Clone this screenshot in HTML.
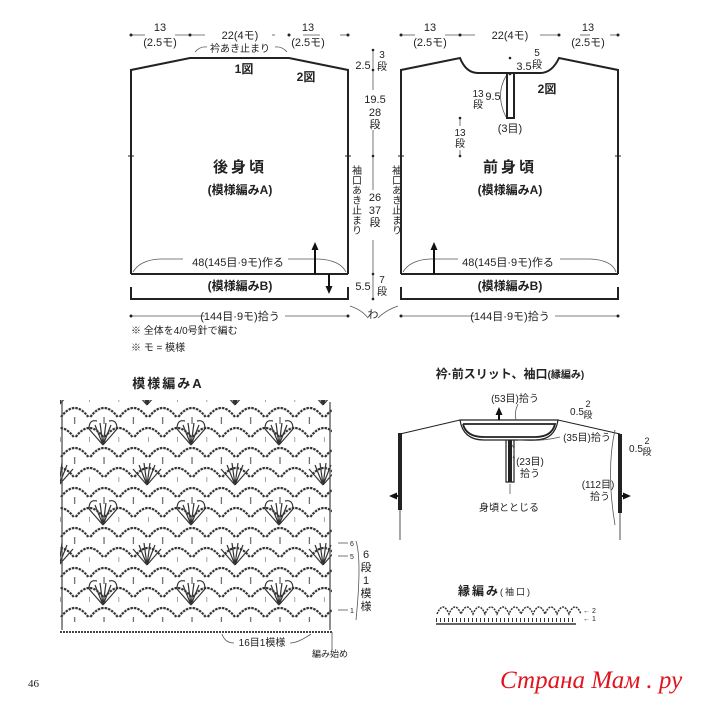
<!DOCTYPE html>
<html><head><meta charset="utf-8"><style>
html,body{margin:0;padding:0;background:#fff;}
body{width:702px;height:700px;overflow:hidden;}
svg text{font-family:"Liberation Sans","Noto Sans CJK JP",sans-serif;fill:#222;}
.b{font-weight:bold;}
</style></head><body>
<svg width="702" height="700" viewBox="0 0 702 700" xmlns="http://www.w3.org/2000/svg">
<defs>
<pattern id="arcs" x="60" y="402" width="29.33" height="40" patternUnits="userSpaceOnUse">
 <path d="M1 15 Q14.7 -3 28.3 15" fill="none" stroke="#333" stroke-width="2.2" stroke-dasharray="2.5 1"/>
 <path d="M-13.7 35 Q0 17 13.7 35 M15.7 35 Q29.3 17 43 35" fill="none" stroke="#333" stroke-width="2.2" stroke-dasharray="2.5 1"/>
 <line x1="14.7" y1="15" x2="14.7" y2="22" stroke="#444" stroke-width="1"/>
 <line x1="0" y1="35" x2="0" y2="40" stroke="#444" stroke-width="1"/>
</pattern>
<pattern id="fans" x="59" y="415" width="88" height="80" patternUnits="userSpaceOnUse">
 <g fill="none" stroke="#333" stroke-width="1.2">
  <path d="M44 30 L30 14 M44 30 L36 10 M44 30 L41 8 M44 30 L47 8 M44 30 L52 10 M44 30 L58 14"/>
  <path d="M30 14 Q30 4 38 6 M58 14 Q58 4 50 6"/>
  <path d="M0 70 L-14 54 M0 70 L-8 50 M0 70 L-3 48 M0 70 L3 48 M0 70 L8 50 M0 70 L14 54"/>
  <path d="M88 70 L74 54 M88 70 L80 50 M88 70 L85 48 M88 70 L91 48 M88 70 L96 50 M88 70 L102 54"/>
 </g>
</pattern>
<marker id="ah" markerUnits="userSpaceOnUse" markerWidth="8" markerHeight="8" refX="4" refY="4" orient="auto"><path d="M0 0.5 L8 4 L0 7.5 z" fill="#111"/></marker>
</defs>

<!-- ===== Back body ===== -->
<g fill="none" stroke="#222" stroke-width="2">
 <path d="M131 274 L131 70 L190 58 L289 58 L348 70 L348 274"/>
 <line x1="131" y1="274" x2="348" y2="274"/>
 <path d="M131 287 L131 299 L348 299 L348 287"/>
</g>
<g fill="none" stroke="#555" stroke-width="0.8">
 <path d="M133 272 Q140 260 160 259 L183 259 M288 259 L318 259 Q340 260 346 272"/>
 <path d="M195 52 Q200 46 207 47 M275 47 Q282 46 287 52"/>
 <line x1="131" y1="35" x2="145" y2="35"/><line x1="175" y1="35" x2="205" y2="35"/><line x1="272" y1="35" x2="275" y2="35"/><line x1="303" y1="35" x2="320" y2="35"/><line x1="340" y1="35" x2="348" y2="35"/>
 <line x1="131" y1="316" x2="205" y2="316"/><line x1="285" y1="316" x2="348" y2="316"/>
</g>
<g fill="#222"><circle cx="131" cy="35" r="1.5"/><circle cx="190" cy="35" r="1.5"/><circle cx="289" cy="35" r="1.5"/><circle cx="348" cy="35" r="1.5"/><circle cx="131" cy="316" r="1.5"/><circle cx="348" cy="316" r="1.5"/></g>
<line x1="128" y1="156" x2="134" y2="156" stroke="#222"/><line x1="345" y1="156" x2="351" y2="156" stroke="#222"/>
<line x1="315" y1="274" x2="315" y2="246" stroke="#111" stroke-width="2" marker-end="url(#ah)"/>
<line x1="329" y1="274" x2="329" y2="290" stroke="#111" stroke-width="2" marker-end="url(#ah)"/>
<g font-size="11" text-anchor="middle">
 <text x="160" y="31">13</text><text x="160" y="46">(2.5モ)</text>
 <text x="240" y="39">22(4モ)</text>
 <text x="308" y="31">13</text><text x="308" y="46">(2.5モ)</text>
 <text x="240" y="52" font-size="10">衿あき止まり</text>
 <text x="238" y="266">48(145目·9モ)作る</text>
 <text x="240" y="320">(144目·9モ)拾う</text>
</g>
<text x="244" y="73" font-size="12" class="b" text-anchor="middle">1図</text>
<text x="306" y="81" font-size="12" class="b" text-anchor="middle">2図</text>
<text x="240" y="172" font-size="15" class="b" text-anchor="middle" letter-spacing="3">後身頃</text>
<text x="240" y="194" font-size="12" class="b" text-anchor="middle">(模様編みA)</text>
<text x="240" y="290" font-size="12" class="b" text-anchor="middle">(模様編みB)</text>
<text x="131" y="334" font-size="10">※ 全体を4/0号針で編む</text>
<text x="131" y="351" font-size="10">※ モ = 模様</text>

<!-- middle dims -->
<g stroke="#555" stroke-width="0.8">
 <line x1="373" y1="50" x2="373" y2="90"/><line x1="373" y1="130" x2="373" y2="190"/><line x1="373" y1="240" x2="373" y2="300"/>
</g>
<g fill="#222"><circle cx="373" cy="50" r="1.3"/><circle cx="373" cy="70" r="1.3"/><circle cx="373" cy="156" r="1.3"/><circle cx="373" cy="274" r="1.3"/><circle cx="373" cy="299" r="1.3"/></g>
<g font-size="11" text-anchor="middle">
 <text x="363" y="69">2.5</text><text x="382" y="58" font-size="10">3</text><text x="382" y="70" font-size="10">段</text>
 <text x="375" y="103">19.5</text><text x="375" y="116">28</text><text x="375" y="128">段</text>
 <text x="375" y="201">26</text><text x="375" y="214">37</text><text x="375" y="226">段</text>
 <text x="363" y="290">5.5</text><text x="382" y="283" font-size="10">7</text><text x="382" y="295" font-size="10">段</text>
 <text x="373" y="318">わ</text>
</g>
<g font-size="10" writing-mode="tb">
 <text x="355" y="165">袖口あき止まり</text>
 <text x="395" y="165">袖口あき止まり</text>
</g>
<path d="M350 306 Q362 310 368 318 M398 306 Q386 310 378 318" fill="none" stroke="#555" stroke-width="0.8"/>

<!-- ===== Front body ===== -->
<g fill="none" stroke="#222" stroke-width="2">
 <path d="M401 274 L401 70 L460 58 Q466 73 478 73 L540 73 Q552 73 559 58 L618 70 L618 274"/>
 <path d="M507 73 L507 118 L514 118 L514 73"/>
 <line x1="401" y1="274" x2="618" y2="274"/>
 <path d="M401 287 L401 299 L618 299 L618 287"/>
</g>
<g fill="none" stroke="#555" stroke-width="0.8">
 <path d="M403 272 Q410 260 430 259 L458 259 M560 259 L590 259 Q612 260 616 272"/>
 <line x1="401" y1="35" x2="415" y2="35"/><line x1="445" y1="35" x2="475" y2="35"/><line x1="540" y1="35" x2="560" y2="35"/><line x1="580" y1="35" x2="590" y2="35"/><line x1="610" y1="35" x2="618" y2="35"/>
 <line x1="401" y1="316" x2="475" y2="316"/><line x1="555" y1="316" x2="618" y2="316"/>
 <path d="M506 76 Q495 95 506 117"/>
 <line x1="460" y1="118" x2="460" y2="126"/><line x1="460" y1="150" x2="460" y2="156"/>
</g>
<g fill="#222"><circle cx="401" cy="35" r="1.5"/><circle cx="460" cy="35" r="1.5"/><circle cx="559" cy="35" r="1.5"/><circle cx="618" cy="35" r="1.5"/><circle cx="401" cy="316" r="1.5"/><circle cx="618" cy="316" r="1.5"/><circle cx="510" cy="58" r="1.3"/><circle cx="510" cy="74" r="1.3"/><circle cx="460" cy="118" r="1.3"/><circle cx="460" cy="156" r="1.3"/></g>
<line x1="398" y1="156" x2="404" y2="156" stroke="#222"/><line x1="615" y1="156" x2="621" y2="156" stroke="#222"/>
<line x1="434" y1="274" x2="434" y2="246" stroke="#111" stroke-width="2" marker-end="url(#ah)"/>
<g font-size="11" text-anchor="middle">
 <text x="430" y="31">13</text><text x="430" y="46">(2.5モ)</text>
 <text x="510" y="39">22(4モ)</text>
 <text x="588" y="31">13</text><text x="588" y="46">(2.5モ)</text>
 <text x="524" y="70">3.5</text><text x="537" y="56" font-size="10">5</text><text x="537" y="68" font-size="10">段</text>
 <text x="493" y="100">9.5</text><text x="478" y="97" font-size="10">13</text><text x="478" y="108" font-size="10">段</text>
 <text x="510" y="132">(3目)</text>
 <text x="460" y="136" font-size="10">13</text><text x="460" y="147" font-size="10">段</text>
 <text x="508" y="266">48(145目·9モ)作る</text>
 <text x="510" y="320">(144目·9モ)拾う</text>
</g>
<text x="547" y="93" font-size="12" class="b" text-anchor="middle">2図</text>
<text x="510" y="172" font-size="15" class="b" text-anchor="middle" letter-spacing="3">前身頃</text>
<text x="510" y="194" font-size="12" class="b" text-anchor="middle">(模様編みA)</text>
<text x="510" y="290" font-size="12" class="b" text-anchor="middle">(模様編みB)</text>

<!-- ===== Chart A ===== -->
<text x="168" y="388" font-size="13" class="b" text-anchor="middle" letter-spacing="2">模様編みA</text>
<rect x="60" y="400" width="272" height="222" fill="url(#arcs)"/>
<rect x="60" y="400" width="272" height="222" fill="url(#fans)"/>
<g stroke="#444" stroke-width="1.2" fill="none">
 <line x1="62" y1="402" x2="62" y2="630"/><line x1="330" y1="402" x2="330" y2="630"/>
 <line x1="60" y1="632" x2="333" y2="632" stroke-dasharray="2 1" stroke-width="2"/>
</g>
<g stroke="#555" stroke-width="0.8" fill="none">
 <path d="M222 634 Q225 643 234 643 M290 643 Q298 643 311 634"/>
 <line x1="332" y1="632" x2="332" y2="650"/>
 <path d="M356 541 Q362 560 356 620"/>
 <line x1="338" y1="543" x2="348" y2="543"/><line x1="338" y1="556" x2="348" y2="556"/><line x1="338" y1="610" x2="348" y2="610"/>
</g>
<g font-size="9" text-anchor="middle">
 <text x="262" y="646" font-size="10">16目1模様</text>
 <text x="330" y="657" font-size="9">編み始め</text>
 <text x="352" y="546" font-size="7">6</text><text x="352" y="559" font-size="7">5</text><text x="352" y="613" font-size="7">1</text>
 <text x="366" y="558" font-size="11">6</text><text x="366" y="571" font-size="11">段</text><text x="366" y="584" font-size="11">1</text><text x="366" y="597" font-size="11">模</text><text x="366" y="610" font-size="11">様</text>
</g>

<!-- ===== Collar diagram ===== -->
<text x="510" y="378" font-size="12" class="b" text-anchor="middle">衿·前スリット、袖口<tspan font-size="10">(縁編み)</tspan></text>
<g fill="none" stroke="#222">
 <path d="M400 434 L460 420 M558 420 L620 434" stroke-width="1"/>
 <path d="M460 420 L558 420 Q555 440 535 440 L484 440 Q463 440 460 420 Z" stroke-width="1.2"/>
 <path d="M463 424 L555 424 Q552 437 535 437 L484 437 Q466 437 463 424" stroke-width="1.8"/>
 <path d="M506 440 L506 482 L514 482 L514 440" stroke-width="1.2"/>
 <line x1="510" y1="440" x2="510" y2="482" stroke-width="4"/>
 <line x1="400" y1="433" x2="400" y2="510" stroke-width="4"/>
 <line x1="400" y1="510" x2="400" y2="540" stroke-width="0.8"/>
 <line x1="620" y1="434" x2="620" y2="513" stroke-width="4"/>
 <line x1="620" y1="513" x2="620" y2="540" stroke-width="0.8"/>
</g>
<line x1="499" y1="420" x2="499" y2="411" stroke="#111" stroke-width="2" marker-end="url(#ah)"/>
<line x1="398" y1="496" x2="393" y2="496" stroke="#111" stroke-width="2" marker-end="url(#ah)"/>
<line x1="622" y1="496" x2="627" y2="496" stroke="#111" stroke-width="2" marker-end="url(#ah)"/>
<g fill="none" stroke="#555" stroke-width="0.8">
 <path d="M518 404 Q514 412 516 420"/>
 <path d="M518 440 Q540 442 560 437"/>
 <path d="M512 445 Q516 450 513 458"/>
 <path d="M510 484 L510 494"/>
 <path d="M615 430 Q606 470 615 525"/>
</g>
<g font-size="10" text-anchor="middle">
 <text x="515" y="402">(53目)拾う</text>
 <text x="577" y="415">0.5</text><text x="588" y="407" font-size="9">2</text><text x="588" y="418" font-size="9">段</text>
 <text x="587" y="441">(35目)拾う</text>
 <text x="636" y="452">0.5</text><text x="647" y="444" font-size="9">2</text><text x="647" y="455" font-size="9">段</text>
 <text x="530" y="465">(23目)</text><text x="530" y="477">拾う</text>
 <text x="509" y="511">身頃ととじる</text>
 <text x="598" y="488">(112目)</text><text x="600" y="500">拾う</text>
</g>

<!-- ===== edge pattern ===== -->
<text x="495" y="595" font-size="12" class="b" text-anchor="middle" letter-spacing="2">縁編み<tspan font-size="9" font-weight="normal">(袖口)</tspan></text>
<g fill="none" stroke="#333" stroke-width="1.5">
 <path d="M437 614 q6 -14 12 0 q6 -14 12 0 q6 -14 12 0 q6 -14 12 0 q6 -14 12 0 q6 -14 12 0 q6 -14 12 0 q6 -14 12 0 q6 -14 12 0 q6 -14 12 0 q6 -14 12 0 q6 -14 12 0" stroke-dasharray="2 1"/>
 <line x1="436" y1="624" x2="576" y2="624" stroke-width="1.5"/>
 <line x1="436" y1="620" x2="576" y2="620" stroke-dasharray="1 3" stroke-width="4"/>
</g>
<g font-size="7" fill="#555"><text x="583" y="613">← 2</text><text x="583" y="621">← 1</text></g>

<!-- footer -->
<text x="28" y="687" font-size="11" style="font-family:'Liberation Serif',serif">46</text>
<text x="500" y="688" font-size="25" font-style="italic" style="font-family:'Liberation Serif',serif;fill:#e0141e">Страна Мам . ру</text>
</svg>
</body></html>
